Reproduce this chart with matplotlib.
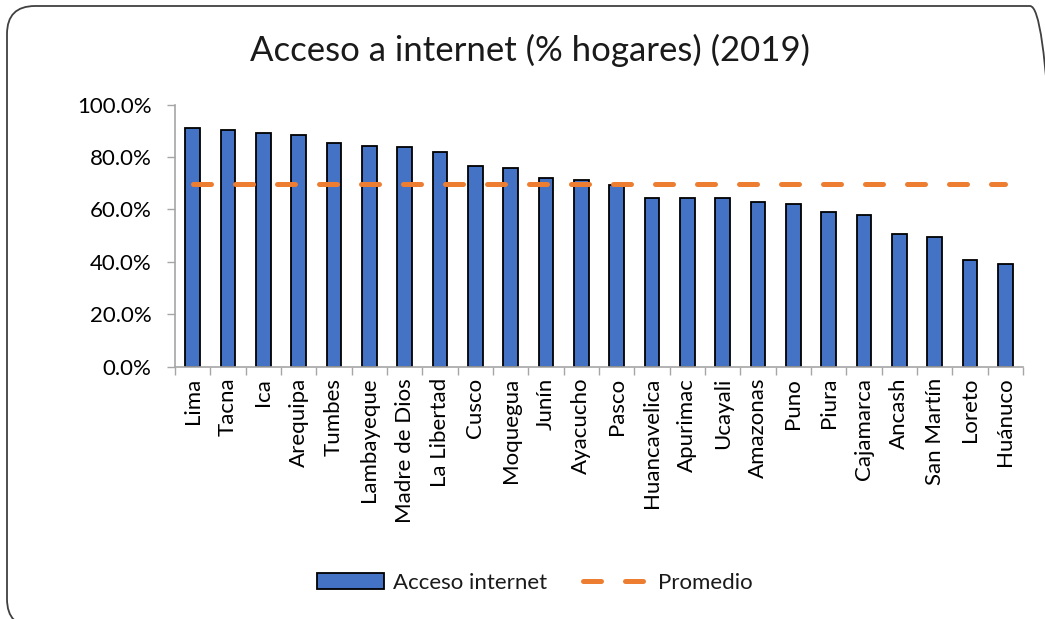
import numpy as np
import matplotlib.pyplot as plt
from matplotlib.patches import FancyBboxPatch
from matplotlib.transforms import IdentityTransform

# Datos
regiones = ['Lima', 'Tacna', 'Ica', 'Arequipa', 'Tumbes', 'Lambayeque', 'Madre de Dios',
            'La Libertad', 'Cusco', 'Moquegua', 'Junín', 'Ayacucho', 'Pasco', 'Huancavelica',
            'Apurimac', 'Ucayali', 'Amazonas', 'Puno', 'Piura', 'Cajamarca', 'Ancash',
            'San Martín', 'Loreto', 'Huánuco']
acceso = [91.2, 90.3, 89.2, 88.5, 85.5, 84.2, 83.7, 82.1, 76.6, 75.7, 71.9, 71.3, 69.4,
          64.3, 64.3, 64.3, 62.9, 62.1, 58.9, 57.9, 50.6, 49.5, 40.6, 39.1]
promedio = [69.9] * len(regiones)

plt.rcParams['font.family'] = ['Lato', 'DejaVu Sans']
plt.rcParams['text.color'] = '#1a1a1a'

fig = plt.figure(figsize=(10.45, 6.19), dpi=100)
ax = fig.add_axes([175 / 1045, 1 - 366.7 / 619, 848 / 1045, 262 / 619])

x = np.arange(len(regiones))
barras = ax.bar(x, np.array(acceso) / 100, width=0.42, color='#4472C4', edgecolor='black',
                linewidth=1.3, label='Acceso internet', zorder=2)
linea, = ax.plot(x, np.array(promedio) / 100, color='#ED7D31', linewidth=3.6,
                 linestyle=(0, (3.6, 4.8)), dash_capstyle='round', label='Promedio', zorder=3)

ax.set_xlim(-0.5, len(regiones) - 0.5)
ax.set_ylim(0, 1)
ax.set_yticks(np.arange(0, 1.01, 0.2))
ax.set_yticklabels([f'{v * 100:.1f}%' for v in np.arange(0, 1.01, 0.2)], fontsize=16)
ax.set_xticks(x)
ax.set_xticklabels(regiones, rotation=90, fontsize=16)
ax.tick_params(axis='x', length=0, pad=8)
ax.set_xticks(np.arange(-0.5, len(regiones), 1), minor=True)
ax.tick_params(axis='x', which='minor', length=6, color='#A6A6A6', width=1)
ax.tick_params(axis='y', length=6, color='#A6A6A6', width=1, pad=11)

for s in ['top', 'right']:
    ax.spines[s].set_visible(False)
for s in ['left', 'bottom']:
    ax.spines[s].set_color('#A6A6A6')
    ax.spines[s].set_linewidth(1.2)

fig.text(530 / 1045, 1 - 50 / 619, 'Acceso a internet (% hogares) (2019)', ha='center',
         va='center', fontsize=25)

fig.legend([barras, linea], ['Acceso internet', 'Promedio'], loc='center',
           bbox_to_anchor=(535 / 1045, 1 - 583 / 619), ncol=2, frameon=False,
           fontsize=16, handlelength=3.0, handletextpad=0.4, columnspacing=1.6)

# Borde redondeado del gráfico
borde = FancyBboxPatch((7, -8), 1051, 619 - 6 + 8, boxstyle='round,pad=0,rounding_size=28',
                       transform=IdentityTransform(), fill=False, edgecolor='#404040',
                       linewidth=1.3)
fig.patches.append(borde)

fig.savefig('out.png', dpi=100)
